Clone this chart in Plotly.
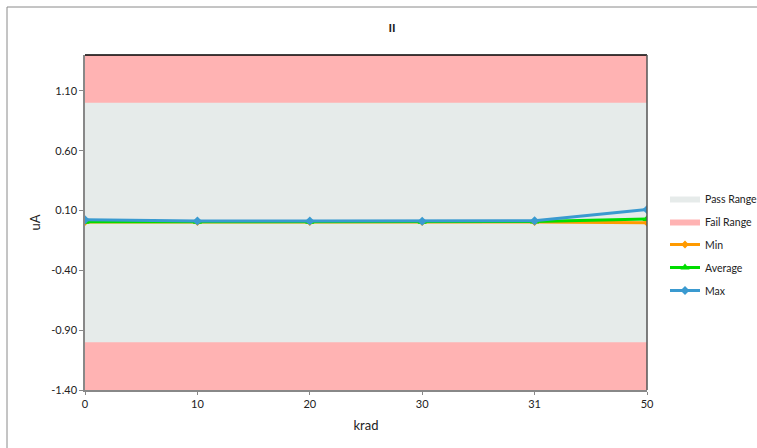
import plotly.graph_objects as go

# ---- data ----
krad = ["0", "10", "20", "30", "31", "50"]
min_vals = [0.004, 0.004, 0.004, 0.004, 0.004, -0.003]
avg_vals = [0.006, 0.006, 0.006, 0.006, 0.008, 0.030]
max_vals = [0.022, 0.012, 0.012, 0.011, 0.014, 0.108]
pass_low, pass_high = -1.0, 1.0
axis_min, axis_max = -1.4, 1.4
y_ticks = [-1.40, -0.90, -0.40, 0.10, 0.60, 1.10]

xi = list(range(len(krad)))
x0, x1 = xi[0], xi[-1]

FONT = "Lato, Liberation Sans, sans-serif"
W, H = 757, 448
ml, mr, mt, mb = 85, 110, 55, 58
pw, ph = W - ml - mr, H - mt - mb

fig = go.Figure()

# Fail range (full band, pass drawn on top)
fig.add_trace(go.Scatter(
    x=[x0, x1, x1, x0, x0], y=[axis_min, axis_min, axis_max, axis_max, axis_min],
    fill="toself", fillcolor="#FFB3B3", mode="lines", line=dict(width=0, color="#FFB3B3"),
    name="Fail Range", legendgroup="b", legendrank=2, hoverinfo="skip"))
fig.add_trace(go.Scatter(
    x=[x0, x1, x1, x0, x0], y=[pass_low, pass_low, pass_high, pass_high, pass_low],
    fill="toself", fillcolor="#E6EBEA", mode="lines", line=dict(width=0, color="#E6EBEA"),
    name="Pass Range", legendgroup="a", legendrank=1, hoverinfo="skip"))

fig.add_trace(go.Scatter(
    x=xi, y=min_vals, mode="lines+markers", name="Min", legendgroup="c", legendrank=3,
    line=dict(color="#FF9A00", width=3), marker=dict(symbol="diamond", size=6, color="#FF9A00")))
fig.add_trace(go.Scatter(
    x=xi, y=avg_vals, mode="lines+markers", name="Average", legendgroup="d", legendrank=4,
    line=dict(color="#00DD00", width=3), marker=dict(symbol="triangle-up", size=8, color="#00DD00")))
fig.add_trace(go.Scatter(
    x=xi, y=max_vals, mode="lines+markers", name="Max", legendgroup="e", legendrank=5,
    line=dict(color="#3A9AD0", width=3), marker=dict(symbol="diamond", size=7, color="#3A9AD0")))

def px_x(p):
    return (p - ml) / pw

def px_y(p):
    return (H - mb - p) / ph

fig.update_layout(
    width=W, height=H,
    margin=dict(l=ml, r=mr, t=mt, b=mb, autoexpand=False),
    paper_bgcolor="white", plot_bgcolor="white",
    font=dict(family=FONT, size=11, color="#222222"),
    title=dict(text="<b>II</b>", x=(392) / W, xanchor="center", y=1 - 28 / H, yanchor="middle",
               font=dict(size=12, color="#222222")),
    xaxis=dict(
        range=[x0, x1], tickvals=xi, ticktext=krad, showgrid=False, zeroline=False,
        showline=True, linecolor="#888888", linewidth=1.5, ticks="outside", ticklen=3,
        tickcolor="#888888", title=dict(text="krad", font=dict(size=13), standoff=12),
        tickfont=dict(size=11)),
    yaxis=dict(
        range=[axis_min, axis_max], tickvals=y_ticks, ticktext=[f"{v:.2f}" for v in y_ticks],
        showgrid=False, zeroline=False, showline=True, linecolor="#888888", linewidth=1.5,
        ticks="outside", ticklen=4, tickcolor="#888888",
        title=dict(text="uA", font=dict(size=13), standoff=8), tickfont=dict(size=11)),
    legend=dict(x=px_x(665), y=px_y(184), xanchor="left", yanchor="top",
                traceorder="grouped", tracegroupgap=4, font=dict(size=10.5),
                itemwidth=30, bgcolor="rgba(0,0,0,0)"),
    showlegend=True,
    shapes=[
        dict(type="line", xref="paper", yref="paper", x0=0, x1=1, y0=1, y1=1,
             line=dict(color="black", width=1.5)),
        dict(type="line", xref="paper", yref="paper", x0=1, x1=1, y0=0, y1=1,
             line=dict(color="#555555", width=1.5)),
        dict(type="line", xref="paper", yref="paper", x0=px_x(7), x1=px_x(770),
             y0=px_y(7), y1=px_y(7), line=dict(color="#8a8a8a", width=1), layer="below"),
        dict(type="line", xref="paper", yref="paper", x0=px_x(7), x1=px_x(7),
             y0=px_y(7), y1=px_y(470), line=dict(color="#8a8a8a", width=1), layer="below"),
    ],
)

fig.write_html("out.html", config={"displayModeBar": False},
               post_script="document.body.style.margin='0';")
